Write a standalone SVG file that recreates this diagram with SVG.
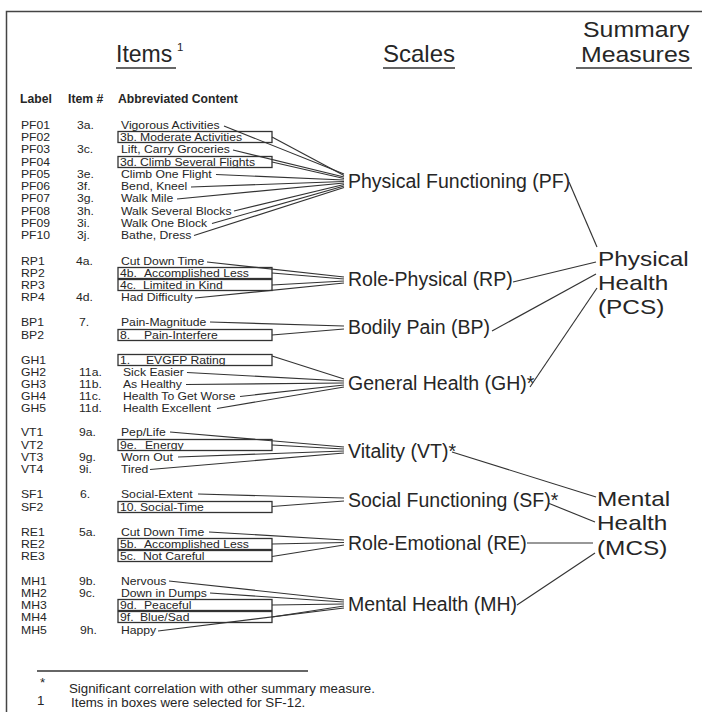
<svg xmlns="http://www.w3.org/2000/svg" width="702" height="712" viewBox="0 0 702 712">
<style>
text{font-family:"Liberation Sans",Arial,sans-serif;fill:#262626}
.i{font-size:10.6px}
.hd{font-size:12.2px;font-weight:bold}
.sc{font-size:19.5px}
.sm{font-size:21px}
.fn{font-size:13.3px}
.box{fill:none;stroke:#333;stroke-width:1.3}
.c line{stroke:#333;stroke-width:1.15}
.u{stroke:#333;stroke-width:1.3}
</style>
<rect width="702" height="712" fill="#fff"/>
<path d="M6.5,712 V11.5 H702" fill="none" stroke="#444" stroke-width="1.5"/>

<g id="titles">
<text x="116" y="62" style="font-size:23px">Items</text>
<text x="177" y="51" style="font-size:11.5px">1</text>
<line class="u" x1="116" y1="68" x2="176" y2="68"/>
<text x="383" y="62" style="font-size:24px">Scales</text>
<line class="u" x1="383" y1="68" x2="455" y2="68"/>
<text style="font-size:22px" transform="translate(583,37) scale(1.13,1)">Summary</text>
<text style="font-size:22px" transform="translate(581,62) scale(1.13,1)">Measures</text>
<line class="u" x1="576" y1="68" x2="692" y2="68"/>
<text class="hd" x="20" y="103">Label</text>
<text class="hd" x="68" y="103">Item #</text>
<text class="hd" x="118" y="103">Abbreviated Content</text>
</g>

<g id="items">
<g id="PF01"><text class="i" transform="translate(21,129) scale(1.15,1)">PF01</text><text class="i" transform="translate(77,129) scale(1.15,1)">3a.</text><text class="i" transform="translate(121,129) scale(1.15,1)">Vigorous Activities</text></g>
<g id="PF02"><text class="i" transform="translate(21,141) scale(1.15,1)">PF02</text><rect class="box" x="118" y="131.5" width="154" height="11"/><text class="i" transform="translate(120,141) scale(1.15,1)">3b.</text><text class="i" transform="translate(140,141) scale(1.15,1)">Moderate Activities</text></g>
<g id="PF03"><text class="i" transform="translate(21,153) scale(1.15,1)">PF03</text><text class="i" transform="translate(77,153) scale(1.15,1)">3c.</text><text class="i" transform="translate(121,153) scale(1.15,1)">Lift, Carry Groceries</text></g>
<g id="PF04"><text class="i" transform="translate(21,166) scale(1.15,1)">PF04</text><rect class="box" x="118" y="156.5" width="154" height="11"/><text class="i" transform="translate(120,166) scale(1.15,1)">3d.</text><text class="i" transform="translate(140,166) scale(1.15,1)">Climb Several Flights</text></g>
<g id="PF05"><text class="i" transform="translate(21,178) scale(1.15,1)">PF05</text><text class="i" transform="translate(77,178) scale(1.15,1)">3e.</text><text class="i" transform="translate(121,178) scale(1.15,1)">Climb One Flight</text></g>
<g id="PF06"><text class="i" transform="translate(21,190) scale(1.15,1)">PF06</text><text class="i" transform="translate(77,190) scale(1.15,1)">3f.</text><text class="i" transform="translate(121,190) scale(1.15,1)">Bend, Kneel</text></g>
<g id="PF07"><text class="i" transform="translate(21,202) scale(1.15,1)">PF07</text><text class="i" transform="translate(77,202) scale(1.15,1)">3g.</text><text class="i" transform="translate(121,202) scale(1.15,1)">Walk Mile</text></g>
<g id="PF08"><text class="i" transform="translate(21,215) scale(1.15,1)">PF08</text><text class="i" transform="translate(77,215) scale(1.15,1)">3h.</text><text class="i" transform="translate(121,215) scale(1.15,1)">Walk Several Blocks</text></g>
<g id="PF09"><text class="i" transform="translate(21,227) scale(1.15,1)">PF09</text><text class="i" transform="translate(77,227) scale(1.15,1)">3i.</text><text class="i" transform="translate(121,227) scale(1.15,1)">Walk One Block</text></g>
<g id="PF10"><text class="i" transform="translate(21,239) scale(1.15,1)">PF10</text><text class="i" transform="translate(77,239) scale(1.15,1)">3j.</text><text class="i" transform="translate(121,239) scale(1.15,1)">Bathe, Dress</text></g>

<g id="RP1"><text class="i" transform="translate(21,265) scale(1.15,1)">RP1</text><text class="i" transform="translate(76,265) scale(1.15,1)">4a.</text><text class="i" transform="translate(121,265) scale(1.15,1)">Cut Down Time</text></g>
<g id="RP2"><text class="i" transform="translate(21,277) scale(1.15,1)">RP2</text><rect class="box" x="118" y="267.5" width="154" height="11"/><text class="i" transform="translate(120,277) scale(1.15,1)">4b.</text><text class="i" transform="translate(144,277) scale(1.15,1)">Accomplished Less</text></g>
<g id="RP3"><text class="i" transform="translate(21,289) scale(1.15,1)">RP3</text><rect class="box" x="118" y="279.5" width="154" height="11"/><text class="i" transform="translate(120,289) scale(1.15,1)">4c.</text><text class="i" transform="translate(143,289) scale(1.15,1)">Limited in Kind</text></g>
<g id="RP4"><text class="i" transform="translate(21,301) scale(1.15,1)">RP4</text><text class="i" transform="translate(76,301) scale(1.15,1)">4d.</text><text class="i" transform="translate(121,301) scale(1.15,1)">Had Difficulty</text></g>

<g id="BP1"><text class="i" transform="translate(21,326) scale(1.15,1)">BP1</text><text class="i" transform="translate(79,326) scale(1.15,1)">7.</text><text class="i" transform="translate(121,326) scale(1.15,1)">Pain-Magnitude</text></g>
<g id="BP2"><text class="i" transform="translate(21,339) scale(1.15,1)">BP2</text><rect class="box" x="118" y="329.5" width="154" height="11"/><text class="i" transform="translate(120,339) scale(1.15,1)">8.</text><text class="i" transform="translate(144,339) scale(1.15,1)">Pain-Interfere</text></g>

<g id="GH1"><text class="i" transform="translate(21,364) scale(1.15,1)">GH1</text><rect class="box" x="118" y="354.5" width="154" height="11"/><text class="i" transform="translate(120,364) scale(1.15,1)">1.</text><text class="i" transform="translate(146,364) scale(1.15,1)">EVGFP Rating</text></g>
<g id="GH2"><text class="i" transform="translate(21,376) scale(1.15,1)">GH2</text><text class="i" transform="translate(79,376) scale(1.15,1)">11a.</text><text class="i" transform="translate(123,376) scale(1.15,1)">Sick Easier</text></g>
<g id="GH3"><text class="i" transform="translate(21,388) scale(1.15,1)">GH3</text><text class="i" transform="translate(79,388) scale(1.15,1)">11b.</text><text class="i" transform="translate(123,388) scale(1.15,1)">As Healthy</text></g>
<g id="GH4"><text class="i" transform="translate(21,400) scale(1.15,1)">GH4</text><text class="i" transform="translate(79,400) scale(1.15,1)">11c.</text><text class="i" transform="translate(123,400) scale(1.15,1)">Health To Get Worse</text></g>
<g id="GH5"><text class="i" transform="translate(21,412) scale(1.15,1)">GH5</text><text class="i" transform="translate(79,412) scale(1.15,1)">11d.</text><text class="i" transform="translate(123,412) scale(1.15,1)">Health Excellent</text></g>

<g id="VT1"><text class="i" transform="translate(21,436) scale(1.15,1)">VT1</text><text class="i" transform="translate(79,436) scale(1.15,1)">9a.</text><text class="i" transform="translate(121,436) scale(1.15,1)">Pep/Life</text></g>
<g id="VT2"><text class="i" transform="translate(21,449) scale(1.15,1)">VT2</text><rect class="box" x="118" y="439.5" width="154" height="11"/><text class="i" transform="translate(120,449) scale(1.15,1)">9e.</text><text class="i" transform="translate(145,449) scale(1.15,1)">Energy</text></g>
<g id="VT3"><text class="i" transform="translate(21,461) scale(1.15,1)">VT3</text><text class="i" transform="translate(79,461) scale(1.15,1)">9g.</text><text class="i" transform="translate(121,461) scale(1.15,1)">Worn Out</text></g>
<g id="VT4"><text class="i" transform="translate(21,473) scale(1.15,1)">VT4</text><text class="i" transform="translate(79,473) scale(1.15,1)">9i.</text><text class="i" transform="translate(121,473) scale(1.15,1)">Tired</text></g>

<g id="SF1"><text class="i" transform="translate(21,498) scale(1.15,1)">SF1</text><text class="i" transform="translate(80,498) scale(1.15,1)">6.</text><text class="i" transform="translate(121,498) scale(1.15,1)">Social-Extent</text></g>
<g id="SF2"><text class="i" transform="translate(21,511) scale(1.15,1)">SF2</text><rect class="box" x="118" y="501.5" width="154" height="11"/><text class="i" transform="translate(120,511) scale(1.15,1)">10.</text><text class="i" transform="translate(140,511) scale(1.15,1)">Social-Time</text></g>

<g id="RE1"><text class="i" transform="translate(21,536) scale(1.15,1)">RE1</text><text class="i" transform="translate(79,536) scale(1.15,1)">5a.</text><text class="i" transform="translate(121,536) scale(1.15,1)">Cut Down Time</text></g>
<g id="RE2"><text class="i" transform="translate(21,548) scale(1.15,1)">RE2</text><rect class="box" x="118" y="538.5" width="154" height="11"/><text class="i" transform="translate(120,548) scale(1.15,1)">5b.</text><text class="i" transform="translate(144,548) scale(1.15,1)">Accomplished Less</text></g>
<g id="RE3"><text class="i" transform="translate(21,560) scale(1.15,1)">RE3</text><rect class="box" x="118" y="550.5" width="154" height="11"/><text class="i" transform="translate(120,560) scale(1.15,1)">5c.</text><text class="i" transform="translate(143,560) scale(1.15,1)">Not Careful</text></g>

<g id="MH1"><text class="i" transform="translate(21,585) scale(1.15,1)">MH1</text><text class="i" transform="translate(79,585) scale(1.15,1)">9b.</text><text class="i" transform="translate(121,585) scale(1.15,1)">Nervous</text></g>
<g id="MH2"><text class="i" transform="translate(21,597) scale(1.15,1)">MH2</text><text class="i" transform="translate(79,597) scale(1.15,1)">9c.</text><text class="i" transform="translate(121,597) scale(1.15,1)">Down in Dumps</text></g>
<g id="MH3"><text class="i" transform="translate(21,609) scale(1.15,1)">MH3</text><rect class="box" x="118" y="599.5" width="154" height="11"/><text class="i" transform="translate(120,609) scale(1.15,1)">9d.</text><text class="i" transform="translate(144,609) scale(1.15,1)">Peaceful</text></g>
<g id="MH4"><text class="i" transform="translate(21,621) scale(1.15,1)">MH4</text><rect class="box" x="118" y="611.5" width="154" height="11"/><text class="i" transform="translate(120,621) scale(1.15,1)">9f.</text><text class="i" transform="translate(140,621) scale(1.15,1)">Blue/Sad</text></g>
<g id="MH5"><text class="i" transform="translate(21,634) scale(1.15,1)">MH5</text><text class="i" transform="translate(80,634) scale(1.15,1)">9h.</text><text class="i" transform="translate(121,634) scale(1.15,1)">Happy</text></g>
</g>

<g id="scales">
<g id="PF"><text class="sc" x="348" y="188">Physical Functioning (PF)</text></g>
<g id="RP"><text class="sc" x="348" y="286">Role-Physical (RP)</text></g>
<g id="BP"><text class="sc" x="348" y="334">Bodily Pain (BP)</text></g>
<g id="GH"><text class="sc" x="348" y="390">General Health (GH)*</text></g>
<g id="VT"><text class="sc" x="348" y="458">Vitality (VT)*</text></g>
<g id="SF"><text class="sc" x="348" y="507">Social Functioning (SF)*</text></g>
<g id="RE"><text class="sc" x="348" y="550">Role-Emotional (RE)</text></g>
<g id="MH"><text class="sc" x="348" y="611">Mental Health (MH)</text></g>
</g>

<g id="PCS">
<text class="sm" transform="translate(598,266) scale(1.16,1)">Physical</text>
<text class="sm" transform="translate(598,290) scale(1.16,1)">Health</text>
<text class="sm" transform="translate(598,314) scale(1.16,1)">(PCS)</text>
</g>
<g id="MCS">
<text class="sm" transform="translate(597,506) scale(1.16,1)">Mental</text>
<text class="sm" transform="translate(597,530) scale(1.16,1)">Health</text>
<text class="sm" transform="translate(597,555) scale(1.16,1)">(MCS)</text>
</g>

<g id="connectors" class="c">
<line x1="224" y1="126" x2="344" y2="174"/>
<line x1="272" y1="137" x2="344" y2="175.5"/>
<line x1="233" y1="150" x2="344" y2="177"/>
<line x1="272" y1="162" x2="344" y2="178.5"/>
<line x1="216" y1="174.5" x2="344" y2="180"/>
<line x1="191" y1="187" x2="344" y2="181.5"/>
<line x1="177" y1="199" x2="344" y2="183"/>
<line x1="234" y1="211" x2="344" y2="184.5"/>
<line x1="212" y1="223.5" x2="344" y2="186"/>
<line x1="194" y1="235.5" x2="344" y2="187.5"/>

<line x1="207" y1="262" x2="344" y2="277"/>
<line x1="272" y1="273" x2="344" y2="279"/>
<line x1="272" y1="285" x2="344" y2="281"/>
<line x1="195" y1="298" x2="344" y2="283"/>

<line x1="210" y1="322" x2="344" y2="326"/>
<line x1="272" y1="335" x2="344" y2="329"/>

<line x1="272" y1="356" x2="344" y2="379"/>
<line x1="187" y1="372.5" x2="344" y2="381"/>
<line x1="186" y1="384.5" x2="344" y2="383"/>
<line x1="240" y1="396.5" x2="344" y2="385"/>
<line x1="217" y1="408.5" x2="344" y2="387"/>

<line x1="170" y1="432" x2="344" y2="447"/>
<line x1="272" y1="445" x2="344" y2="449"/>
<line x1="178" y1="457" x2="344" y2="451"/>
<line x1="150" y1="469.5" x2="344" y2="453"/>

<line x1="198" y1="494" x2="344" y2="498"/>
<line x1="272" y1="506.5" x2="344" y2="501"/>

<line x1="209" y1="532" x2="344" y2="540"/>
<line x1="272" y1="544" x2="344" y2="542.5"/>
<line x1="272" y1="556.5" x2="344" y2="545"/>

<line x1="169" y1="581" x2="344" y2="600"/>
<line x1="210" y1="593" x2="344" y2="602"/>
<line x1="272" y1="605" x2="344" y2="604"/>
<line x1="272" y1="617" x2="344" y2="606"/>
<line x1="158" y1="631" x2="344" y2="608"/>

<line x1="569" y1="182" x2="597" y2="247"/>
<line x1="513" y1="282" x2="596" y2="262"/>
<line x1="492" y1="331" x2="596" y2="274"/>
<line x1="530" y1="387" x2="597" y2="288"/>
<line x1="452" y1="452" x2="596" y2="497"/>
<line x1="548" y1="503" x2="595" y2="522"/>
<line x1="527" y1="543" x2="593" y2="543"/>
<line x1="517" y1="605" x2="595" y2="553"/>
</g>

<g id="footnotes">
<line class="u" x1="37" y1="671" x2="308" y2="671"/>
<text class="fn" x="40" y="687">*</text>
<text class="fn" x="69" y="693">Significant correlation with other summary measure.</text>
<text class="fn" x="37" y="705">1</text>
<text class="fn" x="71" y="707">Items in boxes were selected for SF-12.</text>
</g>
</svg>
